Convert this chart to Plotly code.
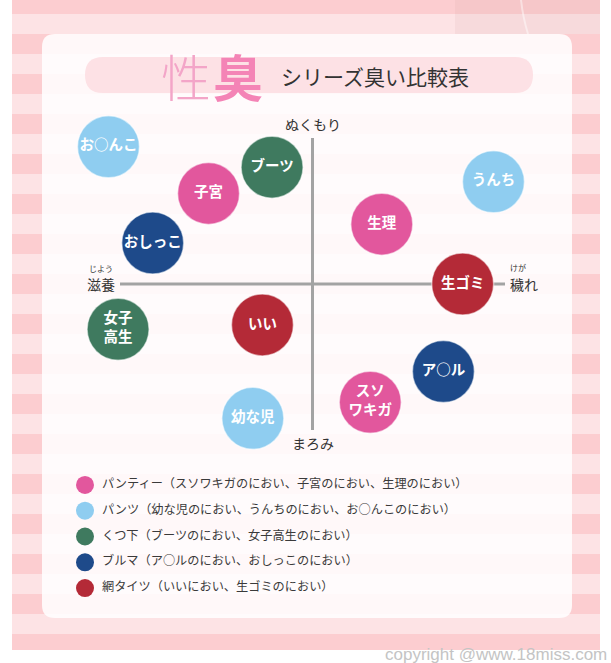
import plotly.graph_objects as go

W, H = 611, 663

# circle labels and their place on the map (cross arms run -10..10)
names = ["お○んこ", "子宮", "ブーツ", "おしっこ", "うんち", "生理", "生ゴミ",
         "女子<br>高生", "いい", "幼な児", "スソ<br>ワキガ", "ア○ル"]
x_vals = [-10.6, -5.4, -2.1, -8.3, 9.4, 3.6, 7.8, -10.1, -2.6, -3.1, 3.0, 6.8]
y_vals = [9.4, 6.2, 8.0, 2.8, 7.0, 4.1, 0.0, -3.1, -2.8, -9.2, -8.1, -6.0]
groups = ["パンツ", "パンティー", "くつ下", "ブルマ", "パンツ", "パンティー", "網タイツ",
          "くつ下", "網タイツ", "パンツ", "パンティー", "ブルマ"]

legend_names = ["パンティー", "パンツ", "くつ下", "ブルマ", "網タイツ"]
legend_texts = [
    "パンティー（スソワキガのにおい、子宮のにおい、生理のにおい）",
    "パンツ（幼な児のにおい、うんちのにおい、お○んこのにおい）",
    "くつ下（ブーツのにおい、女子高生のにおい）",
    "ブルマ（ア○ルのにおい、おしっこのにおい）",
    "網タイツ（いいにおい、生ゴミのにおい）",
]
colors = {"パンティー": "#e2579d", "パンツ": "#8fcdf0", "くつ下": "#3f7a5f",
          "ブルマ": "#1e4a8a", "網タイツ": "#b42a37"}

JP = "Noto Sans CJK JP"


def px(x):
    return x / W


def py(y):
    return 1 - y / H


def rounded(x0, y0, x1, y1, r):
    """角丸の四角 (ピクセル指定 -> paper座標のpath)"""
    pts = [("M", x0 + r, y0), ("L", x1 - r, y0), ("Q", x1, y0, x1, y0 + r),
           ("L", x1, y1 - r), ("Q", x1, y1, x1 - r, y1), ("L", x0 + r, y1),
           ("Q", x0, y1, x0, y1 - r), ("L", x0, y0 + r), ("Q", x0, y0, x0 + r, y0)]
    out = []
    for p in pts:
        if p[0] == "Q":
            out.append("Q%.5f,%.5f %.5f,%.5f" % (px(p[1]), py(p[2]), px(p[3]), py(p[4])))
        else:
            out.append("%s%.5f,%.5f" % (p[0], px(p[1]), py(p[2])))
    return " ".join(out) + " Z"


shapes = []
# 背景のしましま
shapes.append(dict(type="rect", xref="paper", yref="paper", x0=px(12), x1=px(600),
                   y0=py(650), y1=py(0), fillcolor="#fde3e5", line_width=0, layer="below"))
for k in range(-1, 16):
    top = 34 + 40 * k
    bot = min(top + 20, 650)
    shapes.append(dict(type="rect", xref="paper", yref="paper", x0=px(12), x1=px(600),
                       y0=py(bot), y1=py(max(top, 0)), fillcolor="#fccdd0",
                       line_width=0, layer="below"))
# 右上の飾り
shapes.append(dict(type="rect", xref="paper", yref="paper", x0=px(455), x1=px(600),
                   y0=py(34), y1=py(0), fillcolor="rgba(200,150,150,0.10)",
                   line_width=0, layer="below"))
shapes.append(dict(type="path", xref="paper", yref="paper", layer="below",
                   path="M%.4f,%.4f Q%.4f,%.4f %.4f,%.4f" % (px(521), py(0), px(523), py(18), px(528), py(34)),
                   line=dict(color="rgba(255,255,255,0.45)", width=2)))
# 白いパネル
shapes.append(dict(type="path", xref="paper", yref="paper", path=rounded(42, 34, 572, 618, 13),
                   fillcolor="rgba(255,255,255,0.86)", line_width=0, layer="below"))
# タイトルの帯
shapes.append(dict(type="path", xref="paper", yref="paper", path=rounded(85, 57, 533, 93, 18),
                   fillcolor="#fde1e5", line_width=0, layer="below"))
# 十字の軸
shapes.append(dict(type="line", xref="x", yref="y", x0=-10, x1=10, y0=0, y1=0,
                   line=dict(color="#a3a3a3", width=3), layer="below"))
shapes.append(dict(type="line", xref="x", yref="y", x0=0, x1=0, y0=-10, y1=10,
                   line=dict(color="#a3a3a3", width=3), layer="below"))

fig = go.Figure()

fig.add_trace(go.Scatter(
    x=x_vals, y=y_vals, text=names, mode="markers+text",
    marker=dict(size=62, color=[colors[g] for g in groups], opacity=1,
                line=dict(color="rgba(255,255,255,0.55)", width=1.5)),
    textposition="middle center",
    textfont=dict(family=JP, size=14.5, color="white", weight="bold"),
    cliponaxis=False, hoverinfo="skip", showlegend=False,
))

# 凡例 (丸と文字)
fig.add_trace(go.Scatter(
    x=[0] * len(legend_names), y=legend_names, mode="markers",
    marker=dict(size=18, color=[colors[n] for n in legend_names]),
    xaxis="x3", yaxis="y3", cliponaxis=False, hoverinfo="skip", showlegend=False,
))
fig.add_trace(go.Scatter(
    x=[17] * len(legend_names), y=legend_names, text=legend_texts, mode="text",
    textposition="middle right", textfont=dict(family=JP, size=12.2, color="#3a3a3a"),
    xaxis="x3", yaxis="y3", cliponaxis=False, hoverinfo="skip", showlegend=False,
))

ann = [
    dict(text="性", x=px(186), y=py(75), font=dict(family=JP, size=50, color="#f3a5c8", weight=300)),
    dict(text="<b>臭</b>", x=px(238), y=py(75), font=dict(family=JP, size=50, color="#f484b6")),
    dict(text="シリーズ臭い比較表", x=px(375), y=py(76), font=dict(family=JP, size=21, color="#333333")),
    dict(text="ぬくもり", x=px(313), y=py(124), font=dict(family=JP, size=14, color="#333333")),
    dict(text="まろみ", x=px(313), y=py(443), font=dict(family=JP, size=14, color="#333333")),
    dict(text="滋養", x=px(101), y=py(284), font=dict(family=JP, size=14, color="#333333")),
    dict(text="じよう", x=px(101), y=py(268), font=dict(family=JP, size=8, color="#333333")),
    dict(text="穢れ", x=px(524), y=py(284), font=dict(family=JP, size=14, color="#333333")),
    dict(text="けが", x=px(518), y=py(267), font=dict(family=JP, size=8, color="#333333")),
    dict(text="copyright @www.18miss.com", x=px(609), y=py(654), xanchor="right",
         font=dict(family="Liberation Sans", size=17, color="#c4c4c4")),
]
for a in ann:
    a.setdefault("xanchor", "center")
    a.update(xref="paper", yref="paper", yanchor="middle", showarrow=False)

# 範囲は ±12 (丸が十字の外にはみ出すので)、十字の腕は ±10
fig.update_layout(
    width=W, height=H, margin=dict(l=0, r=0, t=0, b=0),
    paper_bgcolor="white", plot_bgcolor="rgba(0,0,0,0)",
    shapes=shapes, annotations=ann,
    xaxis=dict(domain=[px(81.5), px(543.5)], range=[-12, 12], visible=False, fixedrange=True),
    yaxis=dict(domain=[py(459.2), py(108.8)], range=[-12, 12], visible=False, fixedrange=True),
    xaxis3=dict(domain=[px(85), px(185)], range=[0, 100], visible=False, anchor="y3"),
    yaxis3=dict(domain=[py(601), py(472)], type="category", categoryorder="array",
                categoryarray=legend_names, range=[4.5, -0.5], visible=False, anchor="x3"),
)

fig.write_html("out.html", config={"displayModeBar": False},
               post_script="document.body.style.margin='0';")
